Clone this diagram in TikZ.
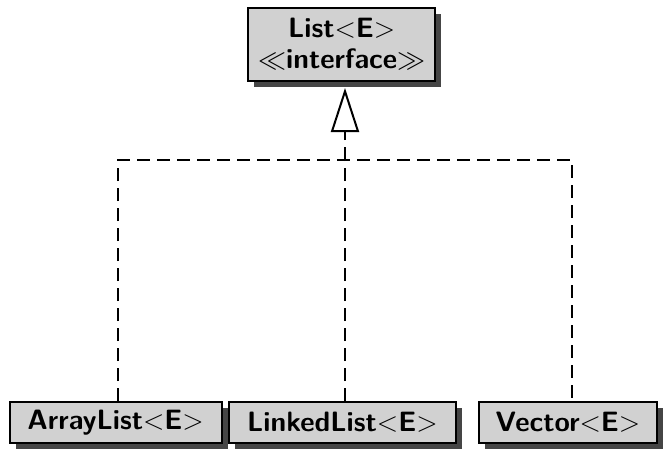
\RequirePackage{fix-cm}
\documentclass[tikz,border=0pt]{standalone}
\usetikzlibrary{arrows.meta,shadows}
\definecolor{boxfill}{gray}{0.82}
\definecolor{shadowgray}{gray}{0.27}
\tikzset{
  umlbox/.style={draw=black, line width=2pt, fill=boxfill, inner sep=0pt,
    font=\fontsize{28}{31}\selectfont\sffamily\bfseries, align=center,
    drop shadow={shadow xshift=6pt, shadow yshift=-6pt, fill=shadowgray, opacity=1}},
  implink/.style={line width=2pt, dash pattern=on 13pt off 7pt},
  implarrow/.style={line width=2pt, -{Triangle[open, length=44pt, width=28pt, line width=2pt]}}
}
\begin{document}
\begin{tikzpicture}[x=1pt, y=-1pt]
\useasboundingbox (0,0) rectangle (663,448);
\node[umlbox, minimum width=186.5pt, minimum height=73.5pt] (list) at (341.7,44.3)
  {List$<$E$>$\\$\ll$interface$\gg$};
\node[umlbox, minimum width=212pt, minimum height=41pt] (arr) at (115.6,422.5) {ArrayList$<$E$>$};
\node[umlbox, minimum width=227pt, minimum height=41pt] (linked) at (342.4,422.5) {LinkedList$<$E$>$};
\node[umlbox, minimum width=178pt, minimum height=41pt] (vec) at (568,422.5) {Vector$<$E$>$};
\coordinate (ja) at (118,160);
\coordinate (jm) at (345,160);
\coordinate (jv) at (572,160);
\coordinate (tip) at (345,88);
\draw[implink] (ja |- arr.north) -- (ja) -- (jv) -- (jv |- vec.north);
\draw[implink] (jm |- linked.north) -- (jm);
\draw[implink, implarrow] (jm) -- (tip);
\end{tikzpicture}
\end{document}
